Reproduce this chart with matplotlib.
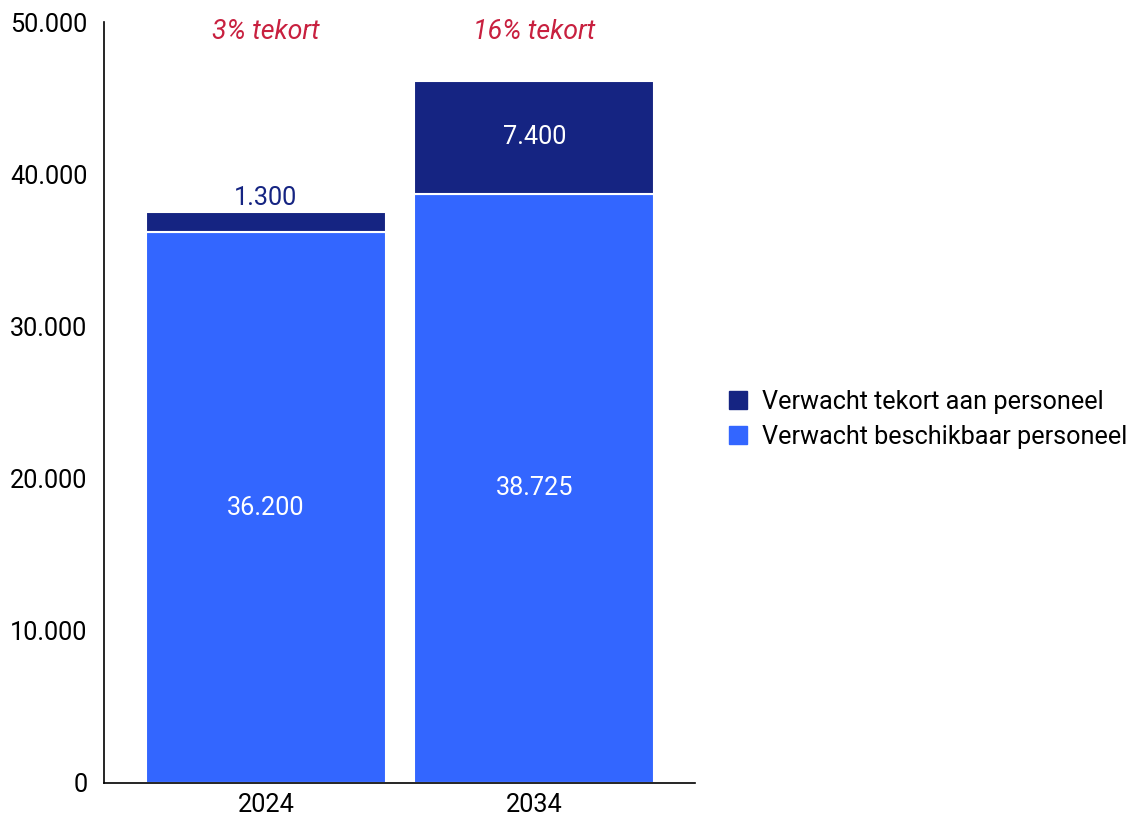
import matplotlib.pyplot as plt
from matplotlib.patches import Patch

plt.rcParams['font.family'] = ['Roboto', 'DejaVu Sans']

years = ['2024', '2034']
beschikbaar = [36200, 38725]
tekort = [1300, 7400]
tekort_pct = ['3% tekort', '16% tekort']

navy = '#152482'
blue = '#3366FF'
red = '#C8203F'

def fmt(v):
    return '{:,}'.format(int(v)).replace(',', '.')

fs = 18.2

fig = plt.figure(figsize=(11.37, 8.17), dpi=100)
ax = fig.add_axes([104/1137, 34/817, (695-104)/1137, (783-22)/817])

x = list(range(len(years)))
w = 0.894
ax.bar(x, beschikbaar, width=w, color=blue, edgecolor='white', linewidth=1.5)
ax.bar(x, tekort, width=w, bottom=beschikbaar, color=navy, edgecolor='white', linewidth=1.5)

for i in x:
    ax.text(i, beschikbaar[i]/2, fmt(beschikbaar[i]), ha='center', va='center',
            color='white', fontsize=fs)
    if tekort[i] > 3000:
        ax.text(i, beschikbaar[i] + tekort[i]/2, fmt(tekort[i]), ha='center', va='center',
                color='white', fontsize=fs)
    else:
        ax.text(i, beschikbaar[i] + tekort[i] + 150, fmt(tekort[i]), ha='center', va='bottom',
                color=navy, fontsize=fs)
    ax.text(i, 49350, tekort_pct[i], ha='center', va='center', color=red,
            fontsize=19.3, style='italic')

ax.set_xlim(-0.603, 1.598)
ax.set_ylim(0, 50000)
ax.set_xticks(x)
ax.set_xticklabels(years)
ax.set_yticks(range(0, 50001, 10000))
ax.set_yticklabels([fmt(v) for v in range(0, 50001, 10000)])
ax.tick_params(axis='both', length=0, labelsize=fs, colors='black')
ax.tick_params(axis='y', pad=12)
ax.tick_params(axis='x', pad=7)
for s in ['top', 'right']:
    ax.spines[s].set_visible(False)
ax.spines['left'].set_linewidth(1.2)
ax.spines['bottom'].set_linewidth(1.2)

handles = [Patch(color=navy, label='Verwacht tekort aan personeel'),
           Patch(color=blue, label='Verwacht beschikbaar personeel')]
fig.legend(handles=handles, loc='center left', bbox_to_anchor=(729/1137, 1 - 419.5/817),
           frameon=False, fontsize=fs, handlelength=0.72, handleheight=0.72,
           handletextpad=0.6, labelspacing=0.45, borderpad=0, borderaxespad=0)

fig.savefig('out.png', dpi=100)
